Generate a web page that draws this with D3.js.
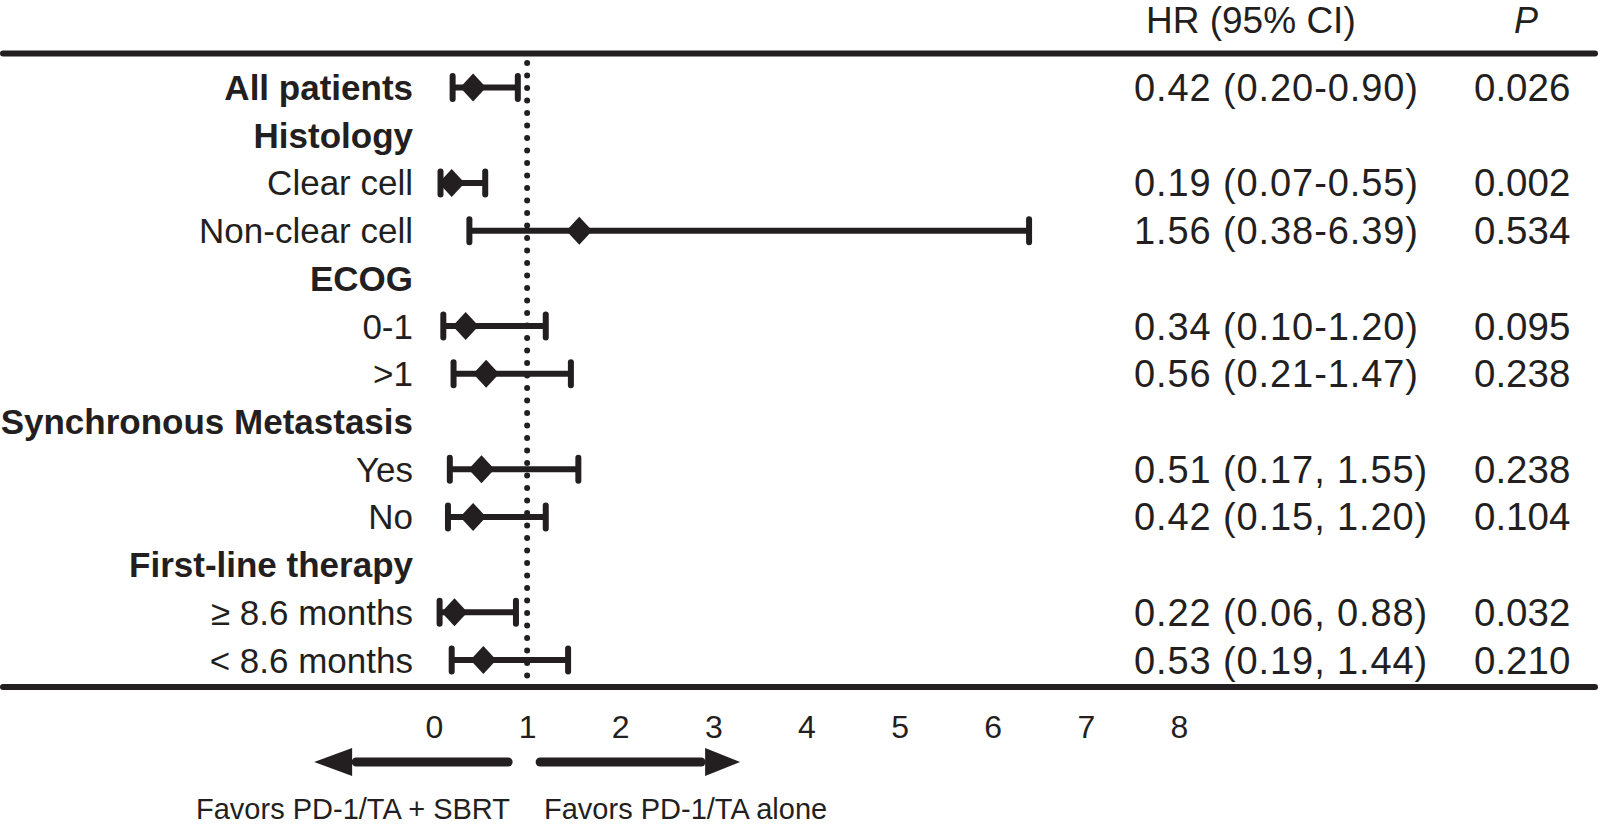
<!DOCTYPE html>
<html>
<head>
<meta charset="utf-8">
<script src="https://cdn.jsdelivr.net/npm/d3@7"></script>
<style>
  html, body { margin: 0; padding: 0; background: #fff; }
  svg { display: block; }
  text { font-family: "Liberation Sans", Arial, Helvetica, sans-serif; fill: #231f20; }
</style>
</head>
<body>
<svg id="chart" width="1600" height="824"></svg>
<script>
// ---- Data ----
const labels = ["All patients", "Histology", "Clear cell", "Non-clear cell", "ECOG", "0-1", ">1",
  "Synchronous Metastasis", "Yes", "No", "First-line therapy", "\u2265 8.6 months", "< 8.6 months"];
const isHeading = [true, true, false, false, true, false, false, true, false, false, true, false, false];
const hrValues = [0.42, null, 0.19, 1.56, null, 0.34, 0.56, null, 0.51, 0.42, null, 0.22, 0.53];
const ciLower  = [0.20, null, 0.07, 0.38, null, 0.10, 0.21, null, 0.17, 0.15, null, 0.06, 0.19];
const ciUpper  = [0.90, null, 0.55, 6.39, null, 1.20, 1.47, null, 1.55, 1.20, null, 0.88, 1.44];
const hrTexts = ["0.42 (0.20-0.90)", "", "0.19 (0.07-0.55)", "1.56 (0.38-6.39)", "", "0.34 (0.10-1.20)",
  "0.56 (0.21-1.47)", "", "0.51 (0.17, 1.55)", "0.42 (0.15, 1.20)", "", "0.22 (0.06, 0.88)", "0.53 (0.19, 1.44)"];
const pTexts = ["0.026", "", "0.002", "0.534", "", "0.095", "0.238", "", "0.238", "0.104", "", "0.032", "0.210"];
const xTicks = [0, 1, 2, 3, 4, 5, 6, 7, 8];
const headerHR = "HR (95% CI)";
const headerP = "P";
const favorsLeft = "Favors PD-1/TA + SBRT";
const favorsRight = "Favors PD-1/TA alone";

// ---- Layout ----
const svg = d3.select("#chart");
const ink = "#231f20";
const x = d3.scaleLinear().domain([0, 8]).range([434, 1179]);
const y = d3.scaleLinear().domain([0, labels.length - 1]).range([87.5, 660]);
const rows = labels.map((l, i) => ({ i, label: l, heading: isHeading[i], hr: hrValues[i], lo: ciLower[i], hi: ciUpper[i], hrText: hrTexts[i], p: pTexts[i] }));

// Horizontal rules
const topY = 53.5, botY = 687;
svg.append("line").attr("x1", 3).attr("x2", 1595).attr("y1", topY).attr("y2", topY)
  .attr("stroke", ink).attr("stroke-width", 6).attr("stroke-linecap", "round");
svg.append("line").attr("x1", 3).attr("x2", 1595).attr("y1", botY).attr("y2", botY)
  .attr("stroke", ink).attr("stroke-width", 6).attr("stroke-linecap", "round");

// Headers
svg.append("text").attr("x", 1146).attr("y", 33).attr("font-size", 37).text(headerHR);
svg.append("text").attr("x", 1514).attr("y", 33).attr("font-size", 36).attr("font-style", "italic").text(headerP);

// Reference dotted line at HR = 1
svg.append("line").attr("x1", x(1)).attr("x2", x(1)).attr("y1", 63).attr("y2", botY - 3)
  .attr("stroke", ink).attr("stroke-width", 6).attr("stroke-linecap", "round")
  .attr("stroke-dasharray", "0 12.5");

// Row labels
svg.append("g").selectAll("text").data(rows).join("text")
  .attr("x", 413).attr("y", d => y(d.i) + 12.5)
  .attr("text-anchor", "end")
  .attr("font-size", 35)
  .attr("font-weight", d => d.heading ? "bold" : "normal")
  .text(d => d.label);

// HR texts
svg.append("g").selectAll("text").data(rows.filter(d => d.hrText)).join("text")
  .attr("x", 1134).attr("y", d => y(d.i) + 13.5)
  .attr("font-size", 38).attr("letter-spacing", 0.9)
  .text(d => d.hrText);

// P texts
svg.append("g").selectAll("text").data(rows.filter(d => d.p)).join("text")
  .attr("x", 1474).attr("y", d => y(d.i) + 13.5)
  .attr("font-size", 38.5)
  .text(d => d.p);

// Forest marks
const est = rows.filter(d => d.hr !== null);
const capH = 13.5;
const g = svg.append("g").attr("stroke", ink).attr("stroke-width", 6);
g.selectAll(".ci").data(est).join("line")
  .attr("x1", d => x(d.lo)).attr("x2", d => x(d.hi))
  .attr("y1", d => y(d.i)).attr("y2", d => y(d.i));
g.selectAll(".capL").data(est).join("line")
  .attr("x1", d => x(d.lo)).attr("x2", d => x(d.lo))
  .attr("y1", d => y(d.i) - capH + 2).attr("y2", d => y(d.i) + capH - 2)
  .attr("stroke-linecap", "round");
g.selectAll(".capR").data(est).join("line")
  .attr("x1", d => x(d.hi)).attr("x2", d => x(d.hi))
  .attr("y1", d => y(d.i) - capH + 2).attr("y2", d => y(d.i) + capH - 2)
  .attr("stroke-linecap", "round");
svg.append("g").selectAll("path").data(est).join("path")
  .attr("fill", ink)
  .attr("d", d => {
    const cx = x(d.hr), cy = y(d.i), w = 13, h = 14;
    return `M${cx - w},${cy}L${cx},${cy - h}L${cx + w},${cy}L${cx},${cy + h}Z`;
  });

// Axis tick labels
const axis = d3.axisBottom(x).tickValues(xTicks).tickSize(0).tickPadding(0).tickFormat(d3.format("d"));
const ag = svg.append("g").attr("transform", "translate(0,706)").call(axis);
ag.select(".domain").remove();
ag.attr("font-size", 32).attr("font-family", "\"Liberation Sans\", Arial, sans-serif");
ag.selectAll("text").attr("font-size", 32).attr("fill", ink).attr("dy", "0.99em");

// Direction arrows
const arrowY = 762;
const lx1 = x(1) - 19, lx0 = x(1) - 175, ltip = x(1) - 213;
svg.append("line").attr("x1", lx1).attr("x2", lx0 + 4).attr("y1", arrowY).attr("y2", arrowY)
  .attr("stroke", ink).attr("stroke-width", 9).attr("stroke-linecap", "round");
svg.append("path").attr("fill", ink)
  .attr("d", `M${ltip},${arrowY}L${lx0},${arrowY - 14}L${lx0},${arrowY + 14}Z`);
const rx0 = x(1) + 13, rx1 = x(1) + 178, rtip = x(1) + 213;
svg.append("line").attr("x1", rx0).attr("x2", rx1 - 4).attr("y1", arrowY).attr("y2", arrowY)
  .attr("stroke", ink).attr("stroke-width", 9).attr("stroke-linecap", "round");
svg.append("path").attr("fill", ink)
  .attr("d", `M${rtip},${arrowY}L${rx1},${arrowY - 14}L${rx1},${arrowY + 14}Z`);

svg.append("text").attr("x", 196).attr("y", 818.5).attr("font-size", 29).text(favorsLeft);
svg.append("text").attr("x", 544).attr("y", 818.5).attr("font-size", 29).text(favorsRight);
</script>
</body>
</html>
